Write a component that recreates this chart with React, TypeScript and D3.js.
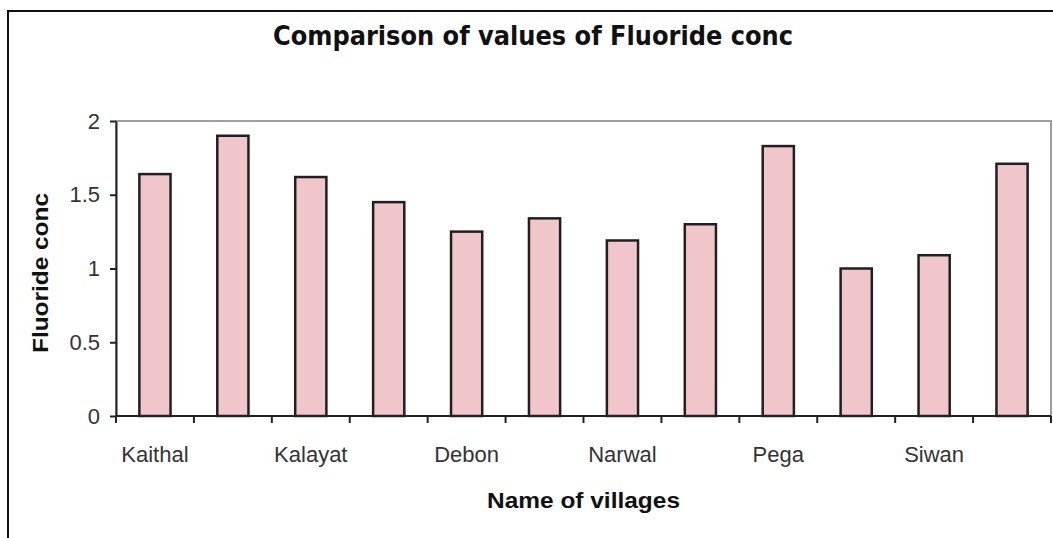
import React, { useRef, useEffect } from 'react';
import * as d3 from 'd3';

// villages: Excel skipped every second label, so those names are unknown
const villages = ['Kaithal', '', 'Kalayat', '', 'Debon', '', 'Narwal', '', 'Pega', '', 'Siwan', ''];
const fluoride = [1.64, 1.9, 1.62, 1.45, 1.25, 1.34, 1.19, 1.3, 1.83, 1.0, 1.09, 1.71];
const yTicks = [0, 0.5, 1, 1.5, 2];

const W = 1053;
const H = 538;

export default function App() {
  const ref = useRef<SVGSVGElement>(null);

  useEffect(() => {
    const svg = d3.select(ref.current);
    svg.selectAll('*').remove();

    const margin = { top: 121, right: 2, bottom: 122, left: 116 };
    const width = W - margin.left - margin.right;
    const height = H - margin.top - margin.bottom;

    // outer frame, only top and left edges are inside the picture
    svg.append('rect')
      .attr('x', 8).attr('y', 11)
      .attr('width', W + 20).attr('height', H + 20)
      .attr('fill', '#fff')
      .attr('stroke', '#111')
      .attr('stroke-width', 2);

    svg.append('text')
      .attr('x', 533).attr('y', 45)
      .attr('text-anchor', 'middle')
      .attr('textLength', 520)
      .attr('lengthAdjust', 'spacingAndGlyphs')
      .attr('fill', '#111')
      .style('font-family', '"DejaVu Sans", sans-serif')
      .style('font-size', '27px')
      .style('font-weight', '700')
      .text('Comparison of values of Fluoride conc');

    const g = svg.append('g').attr('transform', `translate(${margin.left},${margin.top})`);

    const x = d3.scaleBand<number>()
      .domain(d3.range(villages.length))
      .range([0, width])
      .paddingInner(0.6)
      .paddingOuter(0.3);

    const y = d3.scaleLinear().domain([0, 2]).range([height, 0]);

    // plot area border
    g.append('rect')
      .attr('width', width).attr('height', height)
      .attr('fill', 'none')
      .attr('stroke', '#a0a0a0')
      .attr('stroke-width', 2);

    g.selectAll('.bar')
      .data(fluoride)
      .enter()
      .append('rect')
      .attr('x', (_, i) => x(i)!)
      .attr('y', d => y(d))
      .attr('width', x.bandwidth())
      .attr('height', d => height - y(d))
      .attr('fill', '#f0c6ca')
      .attr('stroke', '#231f20')
      .attr('stroke-width', 2.5);

    // y axis
    const yAxis = g.append('g')
      .call(d3.axisLeft(y).tickValues(yTicks).tickSize(6).tickSizeOuter(0).tickPadding(10).tickFormat(d3.format('')));
    yAxis.select('.domain').attr('stroke', '#222').attr('stroke-width', 2);
    yAxis.selectAll('line').attr('stroke', '#222').attr('stroke-width', 2);
    yAxis.selectAll('text')
      .attr('fill', '#333')
      .style('font-family', '"Liberation Sans", Arial, sans-serif')
      .style('font-size', '22px');

    // x axis: ticks sit on category boundaries
    const step = x.step();
    const xAxis = g.append('g').attr('transform', `translate(0,${height})`);
    xAxis.append('line')
      .attr('x1', 0).attr('x2', width)
      .attr('stroke', '#222').attr('stroke-width', 2);
    xAxis.selectAll('.tick')
      .data(d3.range(villages.length + 1))
      .enter()
      .append('line')
      .attr('x1', i => i * step).attr('x2', i => i * step)
      .attr('y1', 0).attr('y2', 7)
      .attr('stroke', '#222').attr('stroke-width', 2);
    xAxis.selectAll('.lbl')
      .data(villages)
      .enter()
      .append('text')
      .attr('x', (_, i) => x(i)! + x.bandwidth() / 2)
      .attr('y', 46)
      .attr('text-anchor', 'middle')
      .attr('fill', '#333')
      .style('font-family', '"Liberation Sans", Arial, sans-serif')
      .style('font-size', '22px')
      .text(d => d);

    g.append('text')
      .attr('x', width / 2)
      .attr('y', height + 92)
      .attr('text-anchor', 'middle')
      .attr('textLength', 193)
      .attr('lengthAdjust', 'spacingAndGlyphs')
      .attr('fill', '#111')
      .style('font-family', '"Liberation Sans", Arial, sans-serif')
      .style('font-size', '22px')
      .style('font-weight', '700')
      .text('Name of villages');

    svg.append('text')
      .attr('transform', 'translate(48,273) rotate(-90)')
      .attr('text-anchor', 'middle')
      .attr('textLength', 160)
      .attr('lengthAdjust', 'spacingAndGlyphs')
      .attr('fill', '#111')
      .style('font-family', '"Liberation Sans", Arial, sans-serif')
      .style('font-size', '22px')
      .style('font-weight', '700')
      .text('Fluoride conc');
  }, []);

  return (
    <svg ref={ref} width={W} height={H} style={{ position: 'absolute', left: 0, top: 0, background: '#fff' }} />
  );
}
